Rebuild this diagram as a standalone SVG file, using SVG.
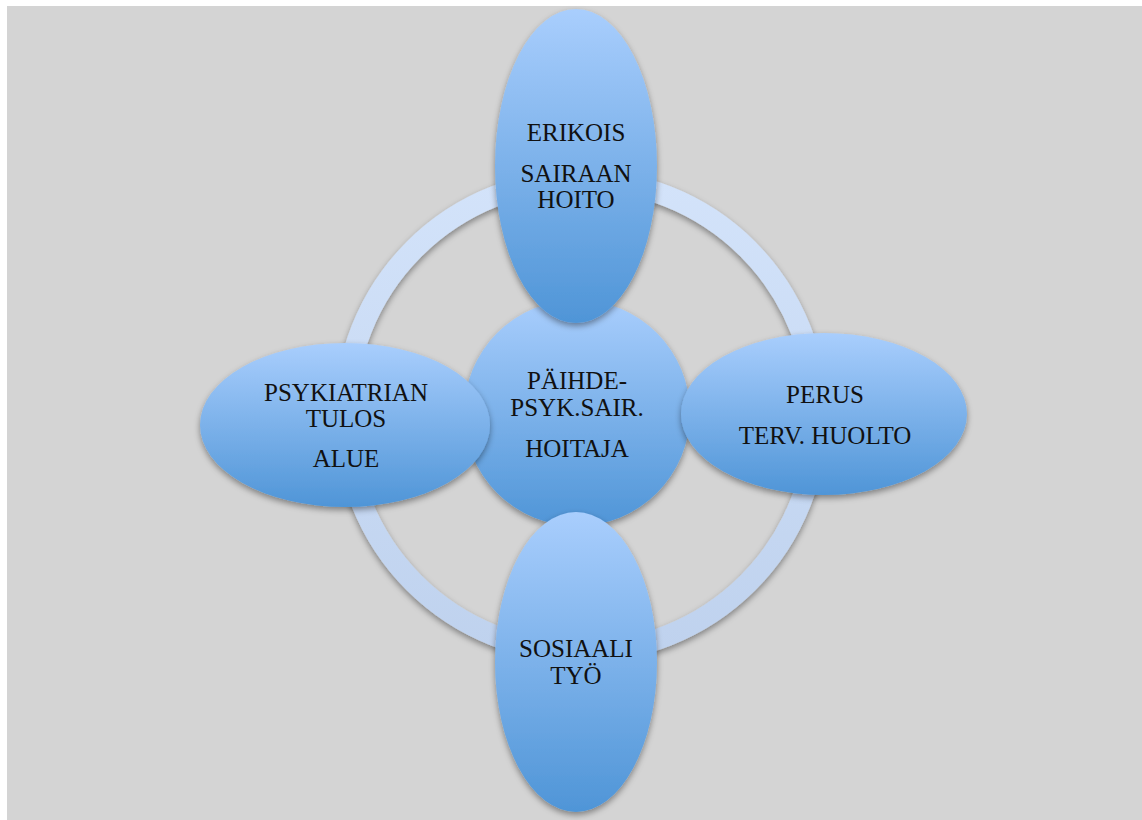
<svg xmlns="http://www.w3.org/2000/svg" width="1142" height="820" viewBox="0 0 1142 820">
<defs>
<linearGradient id="gBlue" x1="0" y1="0" x2="0" y2="1">
<stop offset="0" stop-color="#a9cefd"/>
<stop offset="1" stop-color="#4f95d7"/>
</linearGradient>
<linearGradient id="gRing" x1="0" y1="0" x2="0" y2="1">
<stop offset="0" stop-color="#d3e3fa"/>
<stop offset="1" stop-color="#bfd2ee"/>
</linearGradient>
<filter id="sh" x="-20%" y="-20%" width="140%" height="140%">
<feDropShadow dx="0" dy="3" stdDeviation="3" flood-color="#000" flood-opacity="0.4"/>
</filter>
</defs>
<style>
.node{fill:url(#gBlue);filter:url(#sh)}
.lbl{font-family:"Liberation Serif","DejaVu Serif",serif;font-size:25px;fill:#111;text-anchor:middle}
</style>
<rect x="0" y="0" width="1142" height="820" fill="#ffffff"/>
<rect x="7" y="6" width="1135" height="814" fill="#d4d4d4"/>
<g id="connectors">
<circle cx="581" cy="416" r="236" fill="none" stroke="url(#gRing)" stroke-width="21" filter="url(#sh)"/>
</g>
<g id="center">
<circle class="node" cx="577" cy="413" r="113"/>
<text class="lbl" x="577" y="389">PÄIHDE-</text>
<text class="lbl" x="577" y="416">PSYK.SAIR.</text>
<text class="lbl" x="577" y="457">HOITAJA</text>
</g>
<g id="left">
<ellipse class="node" cx="345" cy="425" rx="145" ry="82"/>
<text class="lbl" x="346" y="401">PSYKIATRIAN</text>
<text class="lbl" x="346" y="427">TULOS</text>
<text class="lbl" x="346" y="467">ALUE</text>
</g>
<g id="right">
<ellipse class="node" cx="824" cy="414" rx="143" ry="81"/>
<text class="lbl" x="825" y="403">PERUS</text>
<text class="lbl" x="825" y="444">TERV. HUOLTO</text>
</g>
<g id="top">
<ellipse class="node" cx="576" cy="166" rx="81" ry="157"/>
<text class="lbl" x="576" y="141">ERIKOIS</text>
<text class="lbl" x="576" y="182">SAIRAAN</text>
<text class="lbl" x="576" y="208">HOITO</text>
</g>
<g id="bottom">
<ellipse class="node" cx="576" cy="662" rx="81" ry="150"/>
<text class="lbl" x="576" y="657">SOSIAALI</text>
<text class="lbl" x="576" y="684">TYÖ</text>
</g>
</svg>
